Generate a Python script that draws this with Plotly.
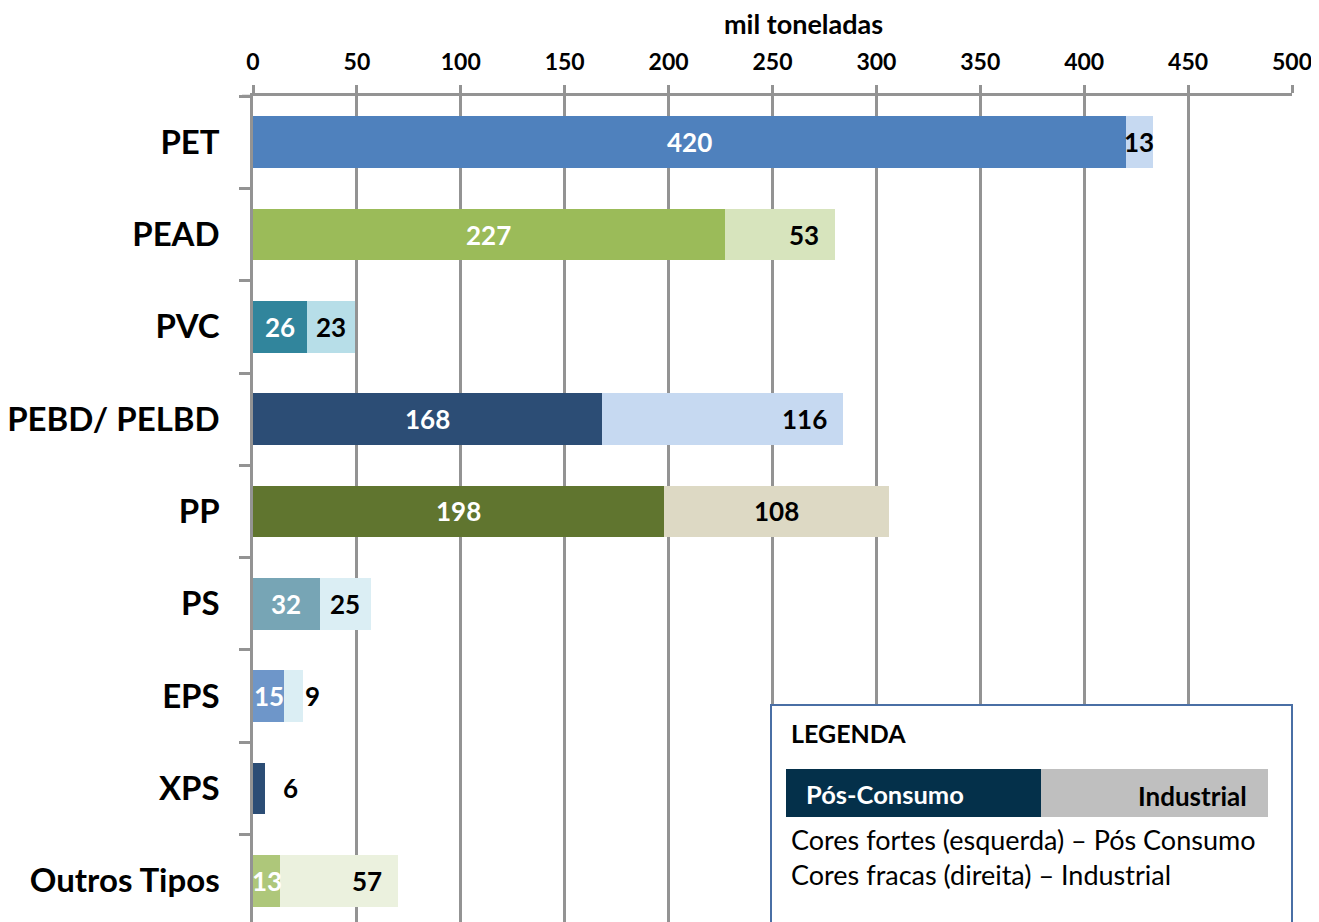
import plotly.graph_objects as go

categories = ["PET", "PEAD", "PVC", "PEBD/ PELBD", "PP", "PS", "EPS", "XPS", "Outros Tipos"]
pos_consumo = [420, 227, 26, 168, 198, 32, 15, 6, 13]
industrial = [13, 53, 23, 116, 108, 25, 9, 0, 57]
pos_labels = ["420", "227", "26", "168", "198", "32", "15", "", "13"]
ind_labels = ["13", "53", "23", "116", "108", "25", "9", "6", "57"]
x_ticks = [0, 50, 100, 150, 200, 250, 300, 350, 400, 450, 500]

strong_colors = ["#4F81BD", "#9BBB59", "#31859C", "#2C4D75", "#60752F",
                 "#77A5B5", "#6E96C9", "#2C4D75", "#AEC77A"]
light_colors = ["#C6D9F1", "#D7E4BD", "#B7DEE8", "#C6D9F1", "#DDD9C4",
                "#DBEEF4", "#DBEEF4", "#DBEEF4", "#EBF1DE"]
# label placement style for industrial labels
ind_anchor = ["middle", "end", "middle", "end", "middle", "middle", "outside", "outside", "end"]

OFF = 8  # page body margin
PW, PH = 1319, 922  # page size
W, H = PW - OFF, PH - OFF
# plot area in page pixels: x 253..1292, y 96..922
L, R, T, B = 253 - OFF, PW - 1292, 96 - OFF, 0
FONT = "Lato"
GRID = "#939393"

fig = go.Figure()
fig.add_trace(go.Bar(y=categories, x=pos_consumo, orientation="h",
                     marker=dict(color=strong_colors, line=dict(width=0)),
                     name="Pós-Consumo", hoverinfo="x+y"))
fig.add_trace(go.Bar(y=categories, x=industrial, orientation="h",
                     marker=dict(color=light_colors, line=dict(width=0)),
                     name="Industrial", hoverinfo="x+y"))

LBL = 26
annotations = []
for i, c in enumerate(categories):
    p, q = pos_consumo[i], industrial[i]
    if pos_labels[i]:
        annotations.append(dict(x=p / 2, y=c, xref="x", yref="y", text=f"<b>{pos_labels[i]}</b>",
                                showarrow=False, xanchor="center",
                                font=dict(family=FONT, size=LBL, color="white")))
    a = ind_anchor[i]
    if a == "middle":
        annotations.append(dict(x=p + q / 2, y=c, xref="x", yref="y", text=f"<b>{ind_labels[i]}</b>",
                                showarrow=False, xanchor="center",
                                font=dict(family=FONT, size=LBL, color="black")))
    elif a == "end":
        annotations.append(dict(x=p + q, y=c, xref="x", yref="y", text=f"<b>{ind_labels[i]}</b>",
                                showarrow=False, xanchor="right", xshift=-14,
                                font=dict(family=FONT, size=LBL, color="black")))
    else:
        annotations.append(dict(x=p + q, y=c, xref="x", yref="y", text=f"<b>{ind_labels[i]}</b>",
                                showarrow=False, xanchor="left", xshift=0 if q else 16,
                                font=dict(family=FONT, size=LBL, color="black")))

def px(xp):
    return (xp - 253) / (1292 - 253)

def py(yp):
    return (922 - yp) / (922 - 96)

annotations.append(dict(x=px(803), y=py(23), xref="paper", yref="paper", text="<b>mil toneladas</b>",
                        showarrow=False, xanchor="center", yanchor="middle",
                        font=dict(family=FONT, size=27, color="black")))
# legend box texts
annotations += [
    dict(x=px(789), y=py(733), xref="paper", yref="paper", text="<b>LEGENDA</b>", showarrow=False,
         xanchor="left", yanchor="middle", font=dict(family=FONT, size=25, color="black")),
    dict(x=px(804), y=py(794), xref="paper", yref="paper", text="<b>Pós-Consumo</b>", showarrow=False,
         xanchor="left", yanchor="middle", font=dict(family=FONT, size=25.5, color="white")),
    dict(x=px(1249), y=py(796), xref="paper", yref="paper", text="<b>Industrial</b>", showarrow=False,
         xanchor="right", yanchor="middle", font=dict(family=FONT, size=26, color="black")),
    dict(x=px(789), y=py(839), xref="paper", yref="paper", text="Cores fortes (esquerda) – Pós Consumo",
         showarrow=False, xanchor="left", yanchor="middle", font=dict(family=FONT, size=27, color="black")),
    dict(x=px(789), y=py(874), xref="paper", yref="paper", text="Cores fracas (direita) – Industrial",
         showarrow=False, xanchor="left", yanchor="middle", font=dict(family=FONT, size=27, color="black")),
]

shapes = [
    dict(type="rect", xref="paper", yref="paper", x0=px(771), x1=px(1292), y0=py(960), y1=py(705),
         line=dict(color="#4A6FA5", width=2), fillcolor="white", layer="above"),
    dict(type="rect", xref="paper", yref="paper", x0=px(786), x1=px(1041), y0=py(817), y1=py(769),
         line=dict(width=0), fillcolor="#04304A", layer="above"),
    dict(type="rect", xref="paper", yref="paper", x0=px(1041), x1=px(1268), y0=py(817), y1=py(769),
         line=dict(width=0), fillcolor="#BFBFBF", layer="above"),
    dict(type="line", xref="paper", yref="paper", x0=px(242), x1=px(253), y0=1, y1=1,
         line=dict(color=GRID, width=2.5)),
]

fig.update_layout(
    width=W, height=H,
    margin=dict(l=L, r=R, t=T, b=B, pad=0, autoexpand=False),
    barmode="stack", bargap=0.437,
    showlegend=False,
    plot_bgcolor="white", paper_bgcolor="white",
    font=dict(family=FONT, color="black"),
    annotations=annotations, shapes=shapes,
    xaxis=dict(side="top", range=[0, 500], tickvals=x_ticks,
               ticktext=[f"<b>{v}</b>" for v in x_ticks],
               tickfont=dict(family=FONT, size=23, color="black"),
               showgrid=True, gridcolor=GRID, gridwidth=2.5,
               showline=True, linecolor=GRID, linewidth=2.5,
               ticks="outside", ticklen=8, tickwidth=2.5, tickcolor=GRID,
               zeroline=False, ticklabelstandoff=6, fixedrange=True, automargin=False),
    yaxis=dict(type="category", categoryorder="array", categoryarray=categories,
               range=[8.446, -0.5],
               ticktext=[f"<b>{c}</b>" for c in categories], tickvals=categories,
               tickfont=dict(family=FONT, size=33, color="black"),
               showline=True, linecolor=GRID, linewidth=2.5,
               ticks="outside", ticklen=11, tickwidth=2.5, tickcolor=GRID,
               tickson="boundaries", showgrid=False, ticklabelstandoff=24, fixedrange=True,
               automargin=False),
)

fig.write_html("out.html")
